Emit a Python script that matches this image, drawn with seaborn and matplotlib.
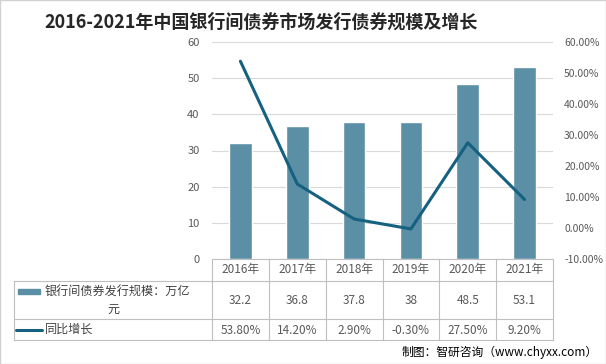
import pandas as pd
import seaborn as sns
import matplotlib.pyplot as plt
import matplotlib.transforms as mtransforms
from matplotlib.patches import Rectangle
from matplotlib.lines import Line2D

# Data
years = ['2016年', '2017年', '2018年', '2019年', '2020年', '2021年']
scale = [32.2, 36.8, 37.8, 38, 48.5, 53.1]
growth = [53.8, 14.2, 2.9, -0.3, 27.5, 9.2]
scale_labels = ['32.2', '36.8', '37.8', '38', '48.5', '53.1']
growth_labels = ['53.80%', '14.20%', '2.90%', '-0.30%', '27.50%', '9.20%']

df = pd.DataFrame({'year': years, 'scale': scale, 'growth': growth})

sns.set_style('white')
plt.rcParams['font.family'] = ['Noto Sans CJK SC', 'DejaVu Sans']

bar_color = '#5b8fa6'
line_color = '#15617f'
grey = '#595959'
grid_c = '#d9d9d9'
table_c = '#bfbfbf'

fig = plt.figure(figsize=(6.06, 3.64), dpi=100)
W, H = 606, 364
ax = fig.add_axes([212 / W, 1 - 259 / H, (553 - 212) / W, (259 - 42) / H])

# Bars
sns.barplot(data=df, x='year', y='scale', color=bar_color, width=0.4,
            saturation=1, ax=ax)
ax.set_xlim(-0.5, 5.5)
ax.set_ylim(0, 60)
ax.set_yticks(range(0, 61, 10))
ax.yaxis.grid(True, color=grid_c, linewidth=0.8)
ax.set_axisbelow(True)
ax.set_xlabel('')
ax.set_ylabel('')
ax.set_xticks([])
for s in ax.spines.values():
    s.set_visible(False)
ax.tick_params(axis='y', colors=grey, labelsize=8, length=0, pad=9)

# Line on secondary axis
ax2 = ax.twinx()
sns.lineplot(x=list(range(len(years))), y=growth, color=line_color,
             linewidth=2.2, ax=ax2)
ax2.set_ylim(-10, 60)
ax2.set_yticks(range(-10, 61, 10))
ax2.set_yticklabels([f'{v:.2f}%' for v in range(-10, 61, 10)])
ax2.tick_params(axis='y', colors=grey, labelsize=7.5, length=0, pad=8)
for s in ax2.spines.values():
    s.set_visible(False)
ax2.set_xlim(-0.5, 5.5)

# Data table below the chart
tr = mtransforms.blended_transform_factory(ax.transData, fig.transFigure)
def fy(py):
    return 1 - py / H

x_left = -0.5 - (212 - 14) / ((553 - 212) / 6)
y_axis, y_h, y_r1, y_r2 = 259, 281, 319, 340

def hline(x0, x1, py):
    fig.add_artist(Line2D([x0, x1], [fy(py), fy(py)], transform=tr,
                          color=table_c, linewidth=0.8))

def vline(x, py0, py1):
    fig.add_artist(Line2D([x, x], [fy(py0), fy(py1)], transform=tr,
                          color=table_c, linewidth=0.8))

hline(-0.5, 5.5, y_axis)
hline(x_left, 5.5, y_h)
hline(x_left, 5.5, y_r1)
hline(x_left, 5.5, y_r2)
for i in range(7):
    vline(i - 0.5, y_axis, y_r2)
vline(x_left, y_h, y_r2)

for i, yr in enumerate(years):
    fig.text(i, fy(270), yr, transform=tr, ha='center', va='center',
             fontsize=8.5, color=grey)
    fig.text(i, fy(300), scale_labels[i], transform=tr, ha='center',
             va='center', fontsize=8.5, color=grey)
    fig.text(i, fy(330), growth_labels[i], transform=tr, ha='center',
             va='center', fontsize=8.5, color=grey)

# Legend keys in the table
fig.add_artist(Rectangle((18 / W, fy(294)), 22 / W, 5 / H,
                         transform=fig.transFigure, color=bar_color))
fig.text(45 / W, fy(291), '银行间债券发行规模：万亿', ha='left', va='center',
         fontsize=8.7, color='#404040')
fig.text(113 / W, fy(309), '元', ha='center', va='center',
         fontsize=8.7, color='#404040')
fig.add_artist(Line2D([16 / W, 42 / W], [fy(330), fy(330)],
                      transform=fig.transFigure, color=line_color, linewidth=2.2))
fig.text(45 / W, fy(329), '同比增长', ha='left', va='center',
         fontsize=8.7, color='#404040')

# Title and source
fig.text(261 / W, fy(22), '2016-2021年中国银行间债券市场发行债券规模及增长',
         ha='center', va='center', fontsize=13, fontweight='bold', color='#262626')
fig.text(598 / W, fy(352), '制图：智研咨询（www.chyxx.com）', ha='right',
         va='center', fontsize=8.5, color='black')

# Thin border
fig.add_artist(Rectangle((0, 0), 1, 1, transform=fig.transFigure, fill=False,
                         edgecolor='#d0d0d0', linewidth=1))

fig.savefig('out.png', dpi=100)
